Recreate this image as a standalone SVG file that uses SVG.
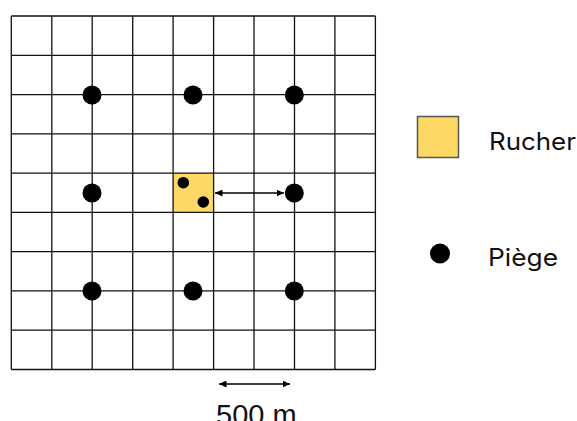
<svg xmlns="http://www.w3.org/2000/svg" width="577" height="421" viewBox="0 0 577 421">
<defs>
<style>
.grid line{stroke:#111;stroke-width:1.3}
.trap{fill:#000}
.rucher{fill:#FFD966}
.lbl{font-family:Inter,"Open Sans",sans-serif;font-size:24px;fill:#111}
.scale{font-family:"Liberation Sans",Arial,sans-serif;font-size:29px;fill:#111}
.conn{stroke:#000;stroke-width:1.4;fill:none;marker-start:url(#ah);marker-end:url(#ah)}
</style>
<marker id="ah" viewBox="0 0 10 10" refX="10" refY="5" markerWidth="7.5" markerHeight="7" orient="auto-start-reverse" markerUnits="userSpaceOnUse" preserveAspectRatio="none">
<path d="M0,0 L10,5 L0,10 Z" fill="#000"/>
</marker>
</defs>
<rect width="577" height="421" fill="#fff"/>
<g id="rucher-cell"><rect class="rucher" x="173" y="173.1" width="40.5" height="39.3"/></g>
<g id="grid" class="grid">
<line x1="11.3" y1="16" x2="11.3" y2="369.5"/>
<line x1="51.8" y1="16" x2="51.8" y2="369.5"/>
<line x1="92.2" y1="16" x2="92.2" y2="369.5"/>
<line x1="132.7" y1="16" x2="132.7" y2="369.5"/>
<line x1="173.1" y1="16" x2="173.1" y2="369.5"/>
<line x1="213.6" y1="16" x2="213.6" y2="369.5"/>
<line x1="254" y1="16" x2="254" y2="369.5"/>
<line x1="294.5" y1="16" x2="294.5" y2="369.5"/>
<line x1="334.9" y1="16" x2="334.9" y2="369.5"/>
<line x1="375.4" y1="16" x2="375.4" y2="369.5"/>
<line x1="11.3" y1="16" x2="375.4" y2="16"/>
<line x1="11.3" y1="55.3" x2="375.4" y2="55.3"/>
<line x1="11.3" y1="94.6" x2="375.4" y2="94.6"/>
<line x1="11.3" y1="133.8" x2="375.4" y2="133.8"/>
<line x1="11.3" y1="173.1" x2="375.4" y2="173.1"/>
<line x1="11.3" y1="212.4" x2="375.4" y2="212.4"/>
<line x1="11.3" y1="251.7" x2="375.4" y2="251.7"/>
<line x1="11.3" y1="290.9" x2="375.4" y2="290.9"/>
<line x1="11.3" y1="330.2" x2="375.4" y2="330.2"/>
<line x1="11.3" y1="369.5" x2="375.4" y2="369.5"/>
</g>
<g id="rucher-traps">
<circle class="trap" cx="183.3" cy="182.7" r="5.8"/>
<circle class="trap" cx="203.3" cy="202" r="5.8"/>
</g>
<g id="traps">
<circle id="trap-1" class="trap" cx="92" cy="95" r="9.5"/>
<circle id="trap-2" class="trap" cx="193" cy="95" r="9.5"/>
<circle id="trap-3" class="trap" cx="294.3" cy="95" r="9.5"/>
<circle id="trap-4" class="trap" cx="92" cy="193" r="9.5"/>
<circle id="trap-5" class="trap" cx="294.3" cy="193" r="9.5"/>
<circle id="trap-6" class="trap" cx="92" cy="291" r="9.5"/>
<circle id="trap-7" class="trap" cx="193" cy="291" r="9.5"/>
<circle id="trap-8" class="trap" cx="294.3" cy="291" r="9.5"/>
</g>
<g id="connectors">
<line class="conn" x1="215" y1="193" x2="284" y2="193"/>
<line class="conn" x1="219" y1="384" x2="290" y2="384"/>
</g>
<g id="legend-rucher">
<rect x="417.5" y="116.5" width="41" height="41" fill="#FFD966" stroke="#555" stroke-width="1.5"/>
<text class="lbl" x="489" y="149.5" textLength="87" lengthAdjust="spacingAndGlyphs">Rucher</text>
</g>
<g id="legend-piege">
<circle class="trap" cx="440" cy="253.5" r="10"/>
<text class="lbl" x="488" y="266" textLength="70" lengthAdjust="spacingAndGlyphs">Piège</text>
</g>
<g id="scale-label">
<text class="scale" x="216" y="424.5">500 m</text>
</g>
</svg>
